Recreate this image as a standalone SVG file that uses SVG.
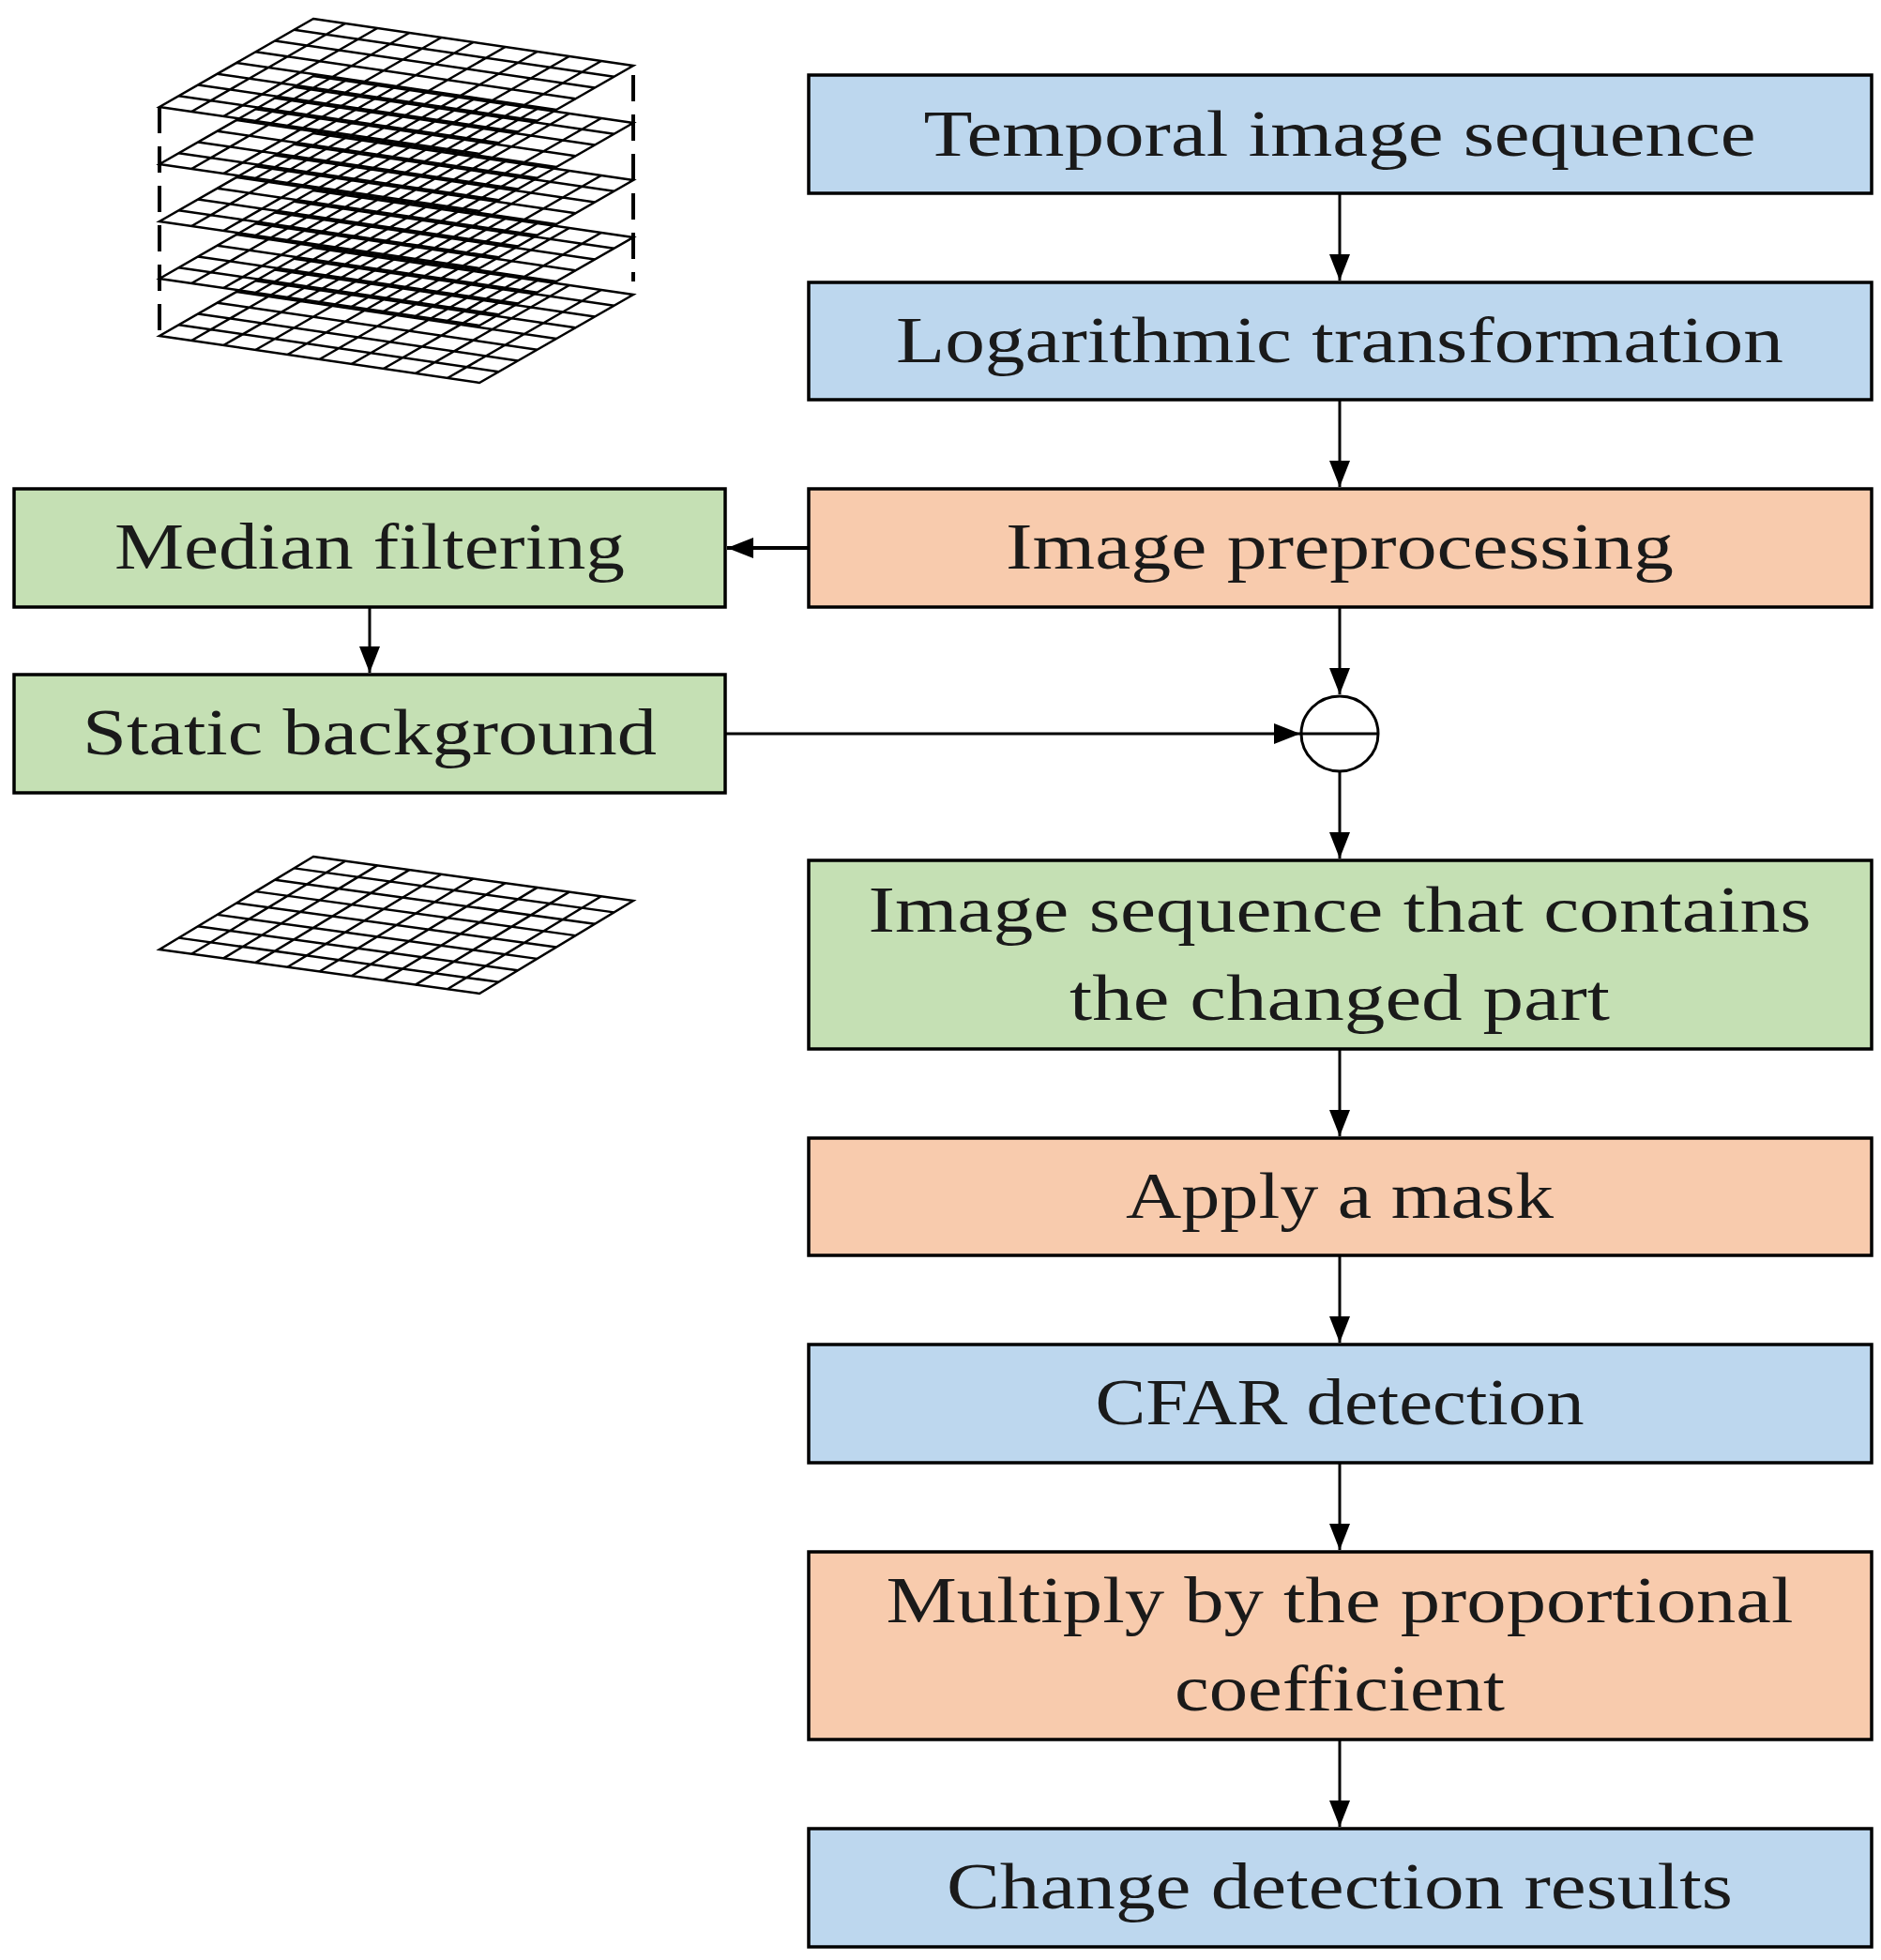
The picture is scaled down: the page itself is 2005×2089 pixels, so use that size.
<svg xmlns="http://www.w3.org/2000/svg" xmlns:xlink="http://www.w3.org/1999/xlink" width="2005" height="2089" viewBox="0 0 2005 2089">
<style>
.box{stroke:#000;stroke-width:3.5}
.blue{fill:#bdd7ee}.orange{fill:#f8cbad}.green{fill:#c5e0b4}
.t{font-family:"Liberation Serif",serif;font-size:70px;fill:#1a1a1a;text-anchor:middle}
.c{stroke:#000;stroke-width:3;fill:none}
.g{stroke:#000;stroke-width:2.5;fill:none;vector-effect:non-scaling-stroke}
.d{stroke:#000;stroke-width:4;stroke-dasharray:28 14}
</style>
<defs>
<marker id="a" markerWidth="28" markerHeight="22" refX="28" refY="11" orient="auto" markerUnits="userSpaceOnUse"><path d="M0,0 L28,11 L0,22 z" fill="#000"/></marker>
<g id="grid">
<path class="g" fill="#fff" d="M0,0 H1 V1 H0 Z"/>
<path class="g" d="M0.1,0V1M0.2,0V1M0.3,0V1M0.4,0V1M0.5,0V1M0.6,0V1M0.7,0V1M0.8,0V1M0.9,0V1M0,0.125H1M0,0.25H1M0,0.375H1M0,0.5H1M0,0.625H1M0,0.75H1M0,0.875H1"/>
</g>
</defs>
<g id="stack">
<use xlink:href="#grid" transform="matrix(341 50 -164 94 334 264)"/>
<use xlink:href="#grid" transform="matrix(341 50 -164 94 334 203)"/>
<use xlink:href="#grid" transform="matrix(341 50 -164 94 334 142)"/>
<use xlink:href="#grid" transform="matrix(341 50 -164 94 334 81)"/>
<use xlink:href="#grid" transform="matrix(341 50 -164 94 334 20)"/>
<line class="d" x1="170" y1="114" x2="170" y2="360"/>
<line class="d" x1="675" y1="80" x2="675" y2="300"/>
</g>
<g id="single">
<use xlink:href="#grid" transform="matrix(341 47 -164 99 334 913)"/>
</g>
<g id="connectors">
<line class="c" x1="1428" y1="206" x2="1428" y2="299" marker-end="url(#a)"/>
<line class="c" x1="1428" y1="426" x2="1428" y2="519" marker-end="url(#a)"/>
<line class="c" x1="862" y1="584" x2="775" y2="584" marker-end="url(#a)" style="stroke-width:4"/>
<line class="c" x1="394" y1="647" x2="394" y2="717" marker-end="url(#a)"/>
<line class="c" x1="1428" y1="647" x2="1428" y2="740" marker-end="url(#a)"/>
<line class="c" x1="773" y1="782" x2="1386" y2="782" marker-end="url(#a)"/>
<line class="c" x1="1428" y1="822" x2="1428" y2="915" marker-end="url(#a)"/>
<line class="c" x1="1428" y1="1118" x2="1428" y2="1211" marker-end="url(#a)"/>
<line class="c" x1="1428" y1="1338" x2="1428" y2="1431" marker-end="url(#a)"/>
<line class="c" x1="1428" y1="1559" x2="1428" y2="1652" marker-end="url(#a)"/>
<line class="c" x1="1428" y1="1854" x2="1428" y2="1947" marker-end="url(#a)"/>
</g>
<g id="subtract">
<ellipse cx="1428" cy="782" rx="41" ry="40" fill="#fff" stroke="#000" stroke-width="3"/>
<line class="c" x1="1387" y1="782" x2="1469" y2="782"/>
</g>
<g id="n1"><rect class="box blue" x="862" y="80" width="1133" height="126"/><text class="t" x="1428" y="166" textLength="887" lengthAdjust="spacingAndGlyphs">Temporal image sequence</text></g>
<g id="n2"><rect class="box blue" x="862" y="301" width="1133" height="125"/><text class="t" x="1428" y="386" textLength="946" lengthAdjust="spacingAndGlyphs">Logarithmic transformation</text></g>
<g id="n3"><rect class="box orange" x="862" y="521" width="1133" height="126"/><text class="t" x="1428" y="606" textLength="712" lengthAdjust="spacingAndGlyphs">Image preprocessing</text></g>
<g id="n4"><rect class="box green" x="15" y="521" width="758" height="126"/><text class="t" x="394" y="606" textLength="544" lengthAdjust="spacingAndGlyphs">Median filtering</text></g>
<g id="n5"><rect class="box green" x="15" y="719" width="758" height="126"/><text class="t" x="394" y="804" textLength="612" lengthAdjust="spacingAndGlyphs">Static background</text></g>
<g id="n6"><rect class="box green" x="862" y="917" width="1133" height="201"/><text class="t" x="1428" y="993" textLength="1005" lengthAdjust="spacingAndGlyphs">Image sequence that contains</text><text class="t" x="1428" y="1087" textLength="576" lengthAdjust="spacingAndGlyphs">the changed part</text></g>
<g id="n7"><rect class="box orange" x="862" y="1213" width="1133" height="125"/><text class="t" x="1428" y="1298" textLength="456" lengthAdjust="spacingAndGlyphs">Apply a mask</text></g>
<g id="n8"><rect class="box blue" x="862" y="1433" width="1133" height="126"/><text class="t" x="1428" y="1518" textLength="521" lengthAdjust="spacingAndGlyphs">CFAR detection</text></g>
<g id="n9"><rect class="box orange" x="862" y="1654" width="1133" height="200"/><text class="t" x="1428" y="1729" textLength="967" lengthAdjust="spacingAndGlyphs">Multiply by the proportional</text><text class="t" x="1428" y="1823" textLength="352" lengthAdjust="spacingAndGlyphs">coefficient</text></g>
<g id="n10"><rect class="box blue" x="862" y="1949" width="1133" height="126"/><text class="t" x="1428" y="2034" textLength="838" lengthAdjust="spacingAndGlyphs">Change detection results</text></g>
</svg>
